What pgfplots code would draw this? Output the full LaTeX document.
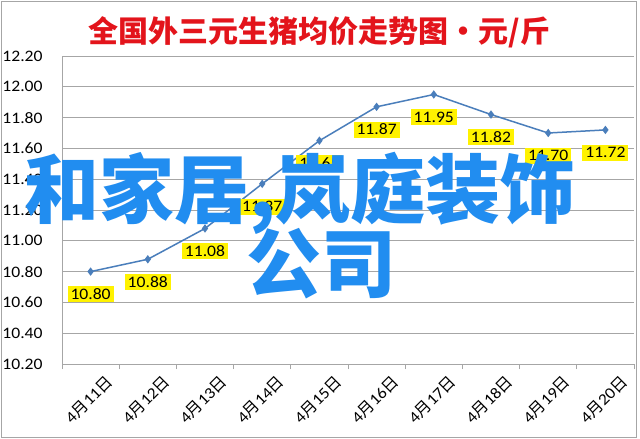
\documentclass[border=0pt]{standalone}
\usepackage{fontspec}
\usepackage{pgfplots}
\pgfplotsset{compat=1.18}
\setmainfont{Carlito}
\newfontfamily\calfont[FakeStretch=1.1]{Carlito}
\newfontfamily\cjk{Noto Sans CJK SC}
\definecolor{lineblue}{HTML}{4A7EBB}
\definecolor{gridgray}{HTML}{A6A6A6}
\definecolor{titlered}{HTML}{E3141B}
\definecolor{markblue}{RGB}{33,141,240}
\newcommand{\dlab}[1]{{\calfont 4}{\cjk 月}{\calfont #1}{\cjk 日}}
\begin{document}
\begin{tikzpicture}
\useasboundingbox (0pt,0pt) rectangle (640pt,439pt);
\fill[white] (0pt,0pt) rectangle (640pt,439pt);
\draw[gridgray, line width=0.8pt] (1.5pt,1.5pt) rectangle (636.5pt,437.5pt);

\begin{axis}[
  at={(62pt,75pt)}, anchor=south west,
  scale only axis, width=572pt, height=308pt,
  xmin=-0.5, xmax=9.5,
  ymin=10.2, ymax=12.2,
  ytick={10.2,10.4,...,12.21},
  xtick={0,...,9},
  xticklabels={\dlab{11},\dlab{12},\dlab{13},\dlab{14},\dlab{15},\dlab{16},\dlab{17},\dlab{18},\dlab{19},\dlab{20}},
  minor xtick={-0.5,0.5,...,9.6},
  major x tick style={draw=none},
  minor tick length=5pt,
  tick align=outside,
  ytick style={draw=none},
  axis lines*=left,
  axis line style={gridgray, line width=0.8pt},
  minor x tick style={gridgray, line width=0.8pt},
  ymajorgrids,
  grid style={gridgray, line width=0.8pt},
  /pgf/number format/assume math mode=true,
  yticklabel style={/pgf/number format/.cd, fixed, fixed zerofill, precision=2, /tikz/.cd,
    anchor=east, inner sep=0pt, xshift=-15pt, font=\fontsize{16pt}{18pt}\selectfont\calfont},
  xticklabel style={rotate=45, anchor=east, inner sep=0pt, xshift=6pt, yshift=-21pt,
    font=\fontsize{16pt}{18pt}\selectfont},
  nodes near coords={\pgfmathprintnumber[fixed,fixed zerofill,precision=2]{\pgfplotspointmeta}},
  nodes near coords style={anchor=north, yshift=-14pt, fill=yellow, inner xsep=3pt, inner ysep=3pt,
    text height=10pt, text depth=0pt, font=\fontsize{16pt}{18pt}\selectfont\calfont, text=black},
]
\addplot[color=lineblue, line width=1.5pt, mark=diamond*, mark size=3pt,
  mark options={fill=lineblue}]
coordinates {
  (0,10.80)(1,10.88)(2,11.08)(3,11.37)(4,11.65)(5,11.87)(6,11.95)(7,11.82)(8,11.70)(9,11.72)
};
\end{axis}

\node[text=titlered, inner sep=0pt, font=\fontsize{30pt}{32pt}\selectfont\cjk\bfseries]
  at (319.5pt,407pt) {全国外三元生猪均价走势图・元/斤};

\node[text=markblue, inner sep=0pt, anchor=base west, font=\fontsize{75pt}{80pt}\selectfont\cjk\bfseries]
  at (24pt,221pt) {和家居,岚庭装饰};
\node[text=markblue, inner sep=0pt, anchor=base west, font=\fontsize{75pt}{80pt}\selectfont\cjk\bfseries]
  at (246pt,147pt) {公司};
\end{tikzpicture}
\end{document}
